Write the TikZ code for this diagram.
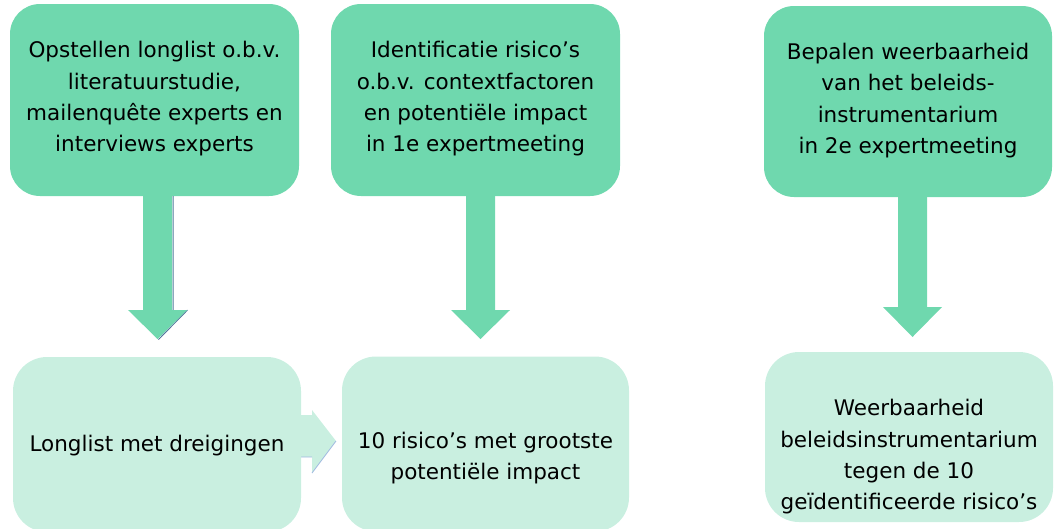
\documentclass[tikz,border=0pt]{standalone}
\usepackage{fontspec}
\setmainfont{DejaVu Sans}
\definecolor{topg}{RGB}{111,216,174}
\definecolor{botg}{RGB}{201,239,224}
\definecolor{shad}{RGB}{80,120,155}
\definecolor{shadl}{RGB}{160,185,225}
\tikzset{
  topbox/.style={fill=topg, draw=none, rounded corners=30pt, minimum width=289pt, minimum height=192pt, inner sep=0pt},
  botbox/.style={fill=botg, draw=none, rounded corners=34pt, minimum width=288pt, minimum height=175pt, inner sep=0pt},
  txt/.style={align=center, font=\fontsize{21.5}{31.3}\selectfont, inner sep=0pt},
  blockarrow/.style={fill=topg, draw=none},
  smallarrow/.style={fill=botg, draw=none},
}
\begin{document}
\begin{tikzpicture}[x=1pt,y=-1pt]
\useasboundingbox (0,0) rectangle (1054,528);
% small horizontal arrow (behind boxes)
\path[smallarrow] (280,415) -- (312,415) -- (312,410) -- (336,441) -- (312,473) -- (312,457) -- (280,457) -- cycle;
\draw[shadl, line width=0.8pt] (300,457) -- (312,457) (312,473) -- (336,441);
% boxes
\node[topbox] (t1) at (154.5,100) {};
\node[topbox] (t2) at (475.5,100) {};
\node[topbox, minimum width=288pt, minimum height=191pt] (t3) at (908,101.5) {};
\node[botbox] (b1) at (157,444.5) {};
\node[botbox, minimum width=287pt] (b2) at (485.5,444) {};
\node[botbox, minimum height=170pt] (b3) at (909,437) {};
% texts
\node[txt] (t1t) at ([yshift=1pt]t1.center) {Opstellen longlist o.b.v.\\literatuurstudie,\\mailenquête experts en\\interviews experts};
\node[txt] (t2t) at ([yshift=1pt]t2.center) {Identificatie risico’s\\o.b.v. contextfactoren\\en potentiële impact\\in 1e expertmeeting};
\node[txt] (t3t) at ([yshift=1pt]t3.center) {Bepalen weerbaarheid\\van het beleids-\\instrumentarium\\in 2e expertmeeting};
\node[txt] (b1t) at ([yshift=-1pt]b1.center) {Longlist met dreigingen};
\node[txt] (b2t) at ([yshift=-14pt]b2.center) {10 risico’s met grootste\\potentiële impact};
\node[txt] (b3t) at ([yshift=-20pt]b3.center) {Weerbaarheid\\beleidsinstrumentarium\\tegen de 10\\geïdentificeerde risico’s};
% vertical block arrows
\draw[shad, line width=1pt] (173,0 |- t1.south) -- (173,310) (187.5,310) -- (158.5,339.5);
\path[blockarrow] (143,0 |- t1.south) -- (172,0 |- t1.south) -- (172,310) -- (187,310) -- (157.5,339) -- (128,310) -- (143,310) -- cycle;
\path[blockarrow] (466,0 |- t2.south) -- (495,0 |- t2.south) -- (495,310) -- (510,310) -- (480.5,339) -- (451,310) -- (466,310) -- cycle;
\path[blockarrow] (898,0 |- t3.south) -- (927,0 |- t3.south) -- (927,307) -- (942,307) -- (912.5,337) -- (883,307) -- (898,307) -- cycle;
\end{tikzpicture}
\end{document}
